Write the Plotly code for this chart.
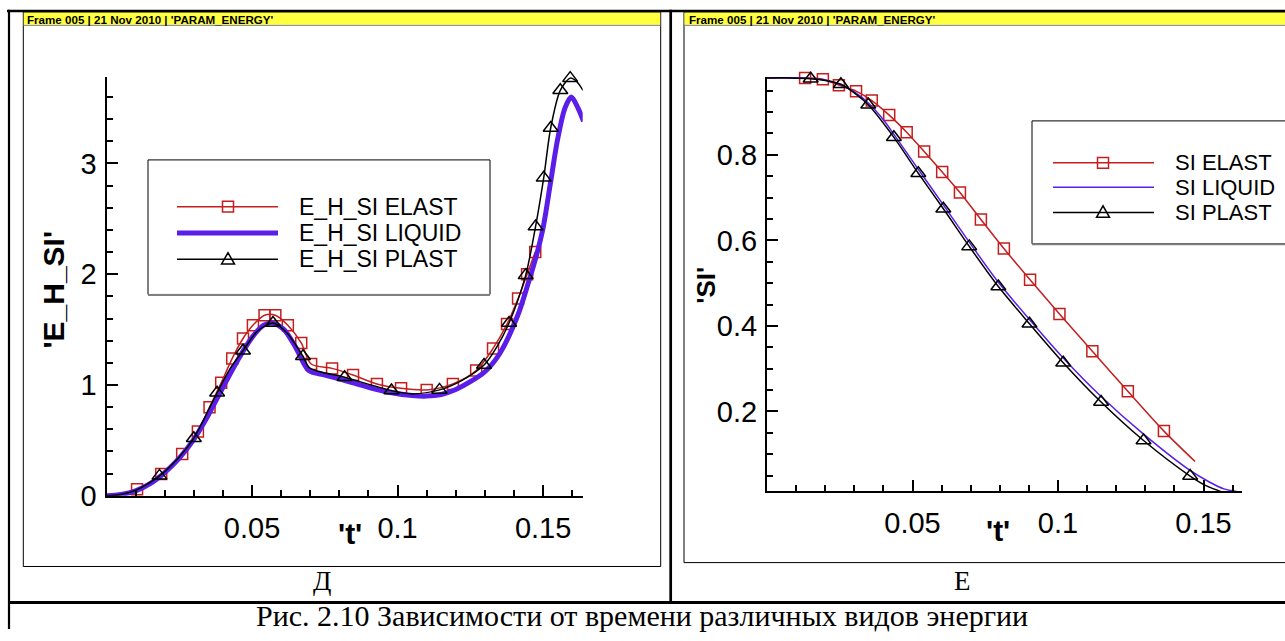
import plotly.graph_objects as go

W, H = 1285, 641

# ---------------- Left panel (Д): 'E_H_SI' vs 't' ----------------
el_t = [0, 0.005, 0.0105, 0.0188, 0.026, 0.0314, 0.0354, 0.0394, 0.0432, 0.0469, 0.0503,
        0.0543, 0.058, 0.0623, 0.0669, 0.0703, 0.0775, 0.0847, 0.0929, 0.1012, 0.110,
        0.119, 0.127, 0.1328, 0.1376, 0.1414, 0.1445, 0.1473]
el_v = [0, 0.015, 0.06, 0.196, 0.377, 0.58, 0.80, 1.02, 1.24, 1.42, 1.54,
        1.63, 1.63, 1.54, 1.38, 1.19, 1.15, 1.09, 1.01, 0.97, 0.956,
        1.01, 1.13, 1.33, 1.55, 1.78, 2.00, 2.20]
el_marks = list(range(2, len(el_t)))

lq_t = [0, 0.005, 0.01, 0.015, 0.02, 0.025, 0.03, 0.035, 0.04, 0.045, 0.05, 0.054, 0.057,
        0.061, 0.065, 0.0695, 0.075, 0.082, 0.09, 0.098, 0.105, 0.11, 0.115, 0.12, 0.125,
        0.13, 0.135, 0.1413, 0.145, 0.1475, 0.15, 0.1525, 0.155, 0.1575, 0.1597, 0.162, 0.1639]
lq_v = [0, 0.012, 0.045, 0.11, 0.21, 0.34, 0.51, 0.73, 0.98, 1.22, 1.43, 1.54, 1.56,
        1.50, 1.34, 1.13, 1.09, 1.04, 0.98, 0.93, 0.905, 0.90, 0.915, 0.96, 1.03,
        1.12, 1.28, 1.63, 1.93, 2.15, 2.42, 2.82, 3.22, 3.50, 3.60, 3.50, 3.38]

pl_t = [0, 0.005, 0.01, 0.0182, 0.025, 0.030, 0.034, 0.038, 0.0425, 0.0469, 0.052, 0.0572,
        0.062, 0.0675, 0.0698, 0.0818, 0.0979, 0.105, 0.1144, 0.122, 0.1297, 0.134, 0.1383,
        0.144, 0.1474, 0.1502, 0.1526, 0.1559, 0.1593, 0.1615, 0.1637]
pl_v = [0, 0.012, 0.05, 0.18, 0.35, 0.52, 0.72, 0.93, 1.15, 1.31, 1.49, 1.56,
        1.47, 1.26, 1.155, 1.07, 0.95, 0.92, 0.956, 1.04, 1.18, 1.34, 1.56,
        1.99, 2.43, 2.87, 3.32, 3.66, 3.77, 3.74, 3.66]
pl_marks = [3, 5, 7, 9, 11, 13, 15, 16, 18, 20, 22, 23, 24, 25, 26, 27, 28]

# ---------------- Right panel (Е): 'SI' vs 't' ----------------
sel_t = [0, 0.0131, 0.0192, 0.0247, 0.0306, 0.036, 0.042, 0.048, 0.054, 0.0602, 0.0663,
         0.0735, 0.0814, 0.0904, 0.1005, 0.1118, 0.1240, 0.1364, 0.1471]
sel_v = [0.98, 0.98, 0.977, 0.963, 0.949, 0.927, 0.893, 0.853, 0.808, 0.760, 0.712,
         0.649, 0.581, 0.508, 0.428, 0.341, 0.247, 0.154, 0.083]
sel_marks = list(range(1, len(sel_t) - 1))

slq_t = [0, 0.013, 0.02, 0.025, 0.03, 0.035, 0.04, 0.0436, 0.052, 0.0606, 0.0695, 0.0795,
         0.0902, 0.1018, 0.1148, 0.1294, 0.1454, 0.152, 0.157, 0.1614]
slq_v = [0.98, 0.98, 0.975, 0.965, 0.947, 0.92, 0.882, 0.848, 0.766, 0.683, 0.596, 0.502,
         0.415, 0.325, 0.235, 0.147, 0.062, 0.035, 0.019, 0.013]

spl_t = [0, 0.008, 0.015, 0.02, 0.0254, 0.03, 0.0348, 0.0436, 0.052, 0.0606, 0.0695, 0.0795,
         0.0902, 0.1018, 0.1148, 0.1294, 0.1454, 0.151, 0.1563]
spl_v = [0.98, 0.98, 0.978, 0.974, 0.965, 0.945, 0.917, 0.841, 0.757, 0.674, 0.586, 0.492,
         0.405, 0.314, 0.222, 0.132, 0.049, 0.026, 0.012]
spl_marks = [2, 4, 6, 7, 8, 9, 10, 11, 12, 13, 14, 15, 16]

left_names = ["E_H_SI ELAST", "E_H_SI LIQUID", "E_H_SI PLAST"]
right_names = ["SI ELAST", "SI LIQUID", "SI PLAST"]
x_ticks = [0, 0.05, 0.1, 0.15]
x_ticktext = ["", "0.05", "0.1", "0.15"]
left_y_ticks = [0, 1, 2, 3]
right_y_ticks = [0.2, 0.4, 0.6, 0.8]

RED = "#c41e1e"
BLUE = "#5a1ee8"
BLACK = "#000000"
SANS = "Liberation Sans, Arial, sans-serif"
SERIF = "Liberation Serif, Times New Roman, serif"


def px(x):
    return x / W


def py(y):
    return 1 - y / H


def pick(arr, idx):
    return [arr[i] for i in idx]


fig = go.Figure()

# Left traces
fig.add_trace(go.Scatter(x=el_t, y=el_v, mode="lines", xaxis="x", yaxis="y",
                         line=dict(color=RED, width=1.5, shape="spline", smoothing=0.8),
                         showlegend=False, name=left_names[0]))
fig.add_trace(go.Scatter(x=pick(el_t, el_marks), y=pick(el_v, el_marks), mode="markers",
                         xaxis="x", yaxis="y", cliponaxis=False, showlegend=False,
                         marker=dict(symbol="square-open", size=11, color=RED,
                                     line=dict(width=1.5, color=RED))))
fig.add_trace(go.Scatter(x=lq_t, y=lq_v, mode="lines", xaxis="x", yaxis="y",
                         line=dict(color=BLUE, width=5, shape="spline", smoothing=0.8),
                         showlegend=False, name=left_names[1]))
fig.add_trace(go.Scatter(x=pl_t, y=pl_v, mode="lines", xaxis="x", yaxis="y",
                         line=dict(color=BLACK, width=1.5, shape="spline", smoothing=0.8),
                         showlegend=False, name=left_names[2]))
fig.add_trace(go.Scatter(x=pick(pl_t, pl_marks), y=pick(pl_v, pl_marks), mode="markers",
                         xaxis="x", yaxis="y", cliponaxis=False, showlegend=False,
                         marker=dict(symbol="triangle-up-open", size=13, color=BLACK,
                                     line=dict(width=1.5, color=BLACK))))

# Right traces
fig.add_trace(go.Scatter(x=sel_t, y=sel_v, mode="lines", xaxis="x2", yaxis="y2",
                         line=dict(color=RED, width=1.5, shape="spline", smoothing=0.8),
                         showlegend=False, name=right_names[0]))
fig.add_trace(go.Scatter(x=pick(sel_t, sel_marks), y=pick(sel_v, sel_marks), mode="markers",
                         xaxis="x2", yaxis="y2", cliponaxis=False, showlegend=False,
                         marker=dict(symbol="square-open", size=11, color=RED,
                                     line=dict(width=1.5, color=RED))))
fig.add_trace(go.Scatter(x=slq_t, y=slq_v, mode="lines", xaxis="x2", yaxis="y2",
                         line=dict(color=BLUE, width=1.5, shape="spline", smoothing=0.8),
                         showlegend=False, name=right_names[1]))
fig.add_trace(go.Scatter(x=spl_t, y=spl_v, mode="lines", xaxis="x2", yaxis="y2",
                         line=dict(color=BLACK, width=1.5, shape="spline", smoothing=0.8),
                         showlegend=False, name=right_names[2]))
fig.add_trace(go.Scatter(x=pick(spl_t, spl_marks), y=pick(spl_v, spl_marks), mode="markers",
                         xaxis="x2", yaxis="y2", cliponaxis=False, showlegend=False,
                         marker=dict(symbol="triangle-up-open", size=13, color=BLACK,
                                     line=dict(width=1.5, color=BLACK))))


def axis(domain, rng, tickvals, ticktext, minor_dtick, anchor, standoff):
    return dict(domain=domain, range=rng, anchor=anchor, showline=True, linecolor="black",
                linewidth=2, ticks="inside", ticklen=11, tickwidth=1.5, tickcolor="black",
                tickmode="array", tickvals=tickvals, ticktext=ticktext,
                showgrid=False, zeroline=False, ticklabelstandoff=standoff,
                tickfont=dict(family=SANS, size=29, color="black"),
                minor=dict(ticks="inside", ticklen=6, tickwidth=1.5, tickcolor="black",
                           tickmode="linear", tick0=0, dtick=minor_dtick, showgrid=False))


fig.update_layout(
    width=W, height=H, margin=dict(l=0, r=0, t=0, b=0),
    paper_bgcolor="white", plot_bgcolor="rgba(0,0,0,0)", showlegend=False,
    xaxis=axis([px(106.5), px(582.7)], [0, 0.1636], x_ticks, x_ticktext, 0.01, "y", 5),
    yaxis=axis([py(508.5), py(79)], [0, 3.78], left_y_ticks,
               [str(v) for v in left_y_ticks], 0.2, "x", 2),
    xaxis2=axis([px(767), px(1242)], [0, 0.16323], x_ticks, x_ticktext, 0.01, "y2", 5),
    yaxis2=axis([py(504), py(79)], [0.013, 0.982], right_y_ticks,
                [str(v) for v in right_y_ticks], 0.05, "x2", 2),
)

shapes = []


def rect(x0, y0, x1, y1, color="black", width=1, fill=None, layer="above"):
    shapes.append(dict(type="rect", xref="paper", yref="paper", x0=px(x0), x1=px(x1),
                       y0=py(y0), y1=py(y1), line=dict(color=color, width=width),
                       fillcolor=fill if fill else "rgba(0,0,0,0)", layer=layer))


def hline(x0, x1, y, color="black", width=1):
    shapes.append(dict(type="line", xref="paper", yref="paper", x0=px(x0), x1=px(x1),
                       y0=py(y), y1=py(y), line=dict(color=color, width=width)))


def vline(x, y0, y1, color="black", width=1):
    shapes.append(dict(type="line", xref="paper", yref="paper", x0=px(x), x1=px(x),
                       y0=py(y0), y1=py(y1), line=dict(color=color, width=width)))


def tri(cx, cy, s, color):
    h = s * 0.9
    path = "M {} {} L {} {} L {} {} Z".format(
        px(cx - s / 2), py(cy + h / 2), px(cx), py(cy - h / 2), px(cx + s / 2), py(cy + h / 2))
    shapes.append(dict(type="path", xref="paper", yref="paper", path=path,
                       line=dict(color=color, width=1.5), fillcolor="rgba(0,0,0,0)"))


# Panel frames and yellow headers
rect(23.3, 12.5, 660.7, 581, width=1)
rect(684, 12.5, 1300, 577, width=1)
rect(23.8, 12.8, 660.2, 25.5, color="#ffff40", width=0, fill="#ffff40")
rect(684.5, 12.8, 1300, 25.5, color="#ffff40", width=0, fill="#ffff40")
hline(23.3, 660.7, 26, color="#808080", width=1)
hline(684, 1290, 26, color="#808080", width=1)

# Table lines
hline(7, 1290, 11.3, width=2.7)
vline(9, 10, 645, width=2.2)
vline(670.7, 10, 618, width=2.7)
hline(8, 1290, 618, width=3)

# Left legend
rect(148, 164, 490, 302, width=1, fill="white")
hline(148, 490, 302.5, color="#808080", width=2)
hline(177, 278, 212, color=RED, width=1.5)
rect(222.5, 206.5, 233.5, 217.5, color=RED, width=1.5)
hline(177, 278, 239, color=BLUE, width=5)
hline(177, 278, 266, color=BLACK, width=1.5)
tri(228, 265, 13, BLACK)

# Right legend
rect(1032, 124, 1300, 250, width=1, fill="white")
hline(1032, 1290, 250.5, color="#808080", width=2)
hline(1053, 1154, 167, color=RED, width=1.5)
rect(1097.5, 161.5, 1108.5, 172.5, color=RED, width=1.5)
hline(1053, 1154, 192, color=BLUE, width=1.5)
hline(1053, 1154, 218, color=BLACK, width=1.5)
tri(1103, 217, 13, BLACK)

fig.update_layout(shapes=shapes)

ann = []


def text(x, y, s, size, family=SANS, bold=False, angle=0, xanchor="center", color="black"):
    ann.append(dict(x=px(x), y=py(y), xref="paper", yref="paper", text=("<b>%s</b>" % s) if bold else s,
                    showarrow=False, xanchor=xanchor, yanchor="middle", textangle=angle,
                    font=dict(family=family, size=size, color=color)))


header = "Frame 005 &#124; 21 Nov 2010 &#124; 'PARAM_ENERGY'"
text(24.5, 19.5, header, 11.6, family="Liberation Sans Narrow, Arial Narrow, Liberation Sans", bold=True, xanchor="left")
text(686.5, 19.5, header, 11.6, family="Liberation Sans Narrow, Arial Narrow, Liberation Sans", bold=True, xanchor="left")

for i, nm in enumerate(left_names):
    text(297, 212 + i * 27, nm, 23, xanchor="left")
for i, nm in enumerate(right_names):
    text(1173, 167 + i * 25.5, nm, 22, xanchor="left")

text(54, 297, "'E_H_SI'", 30, bold=True, angle=-90)
text(350, 547, "'t'", 30, bold=True)
text(706, 293, "'SI'", 26, bold=True, angle=-90)
text(998, 544, "'t'", 30, bold=True)

text(322, 596, "Д", 27, family=SERIF)
text(962, 596, "Е", 27, family=SERIF)
text(642, 631, "Рис. 2.10 Зависимости от времени различных видов энергии", 30, family=SERIF)

fig.update_layout(annotations=ann)

fig.write_html("out.html")
